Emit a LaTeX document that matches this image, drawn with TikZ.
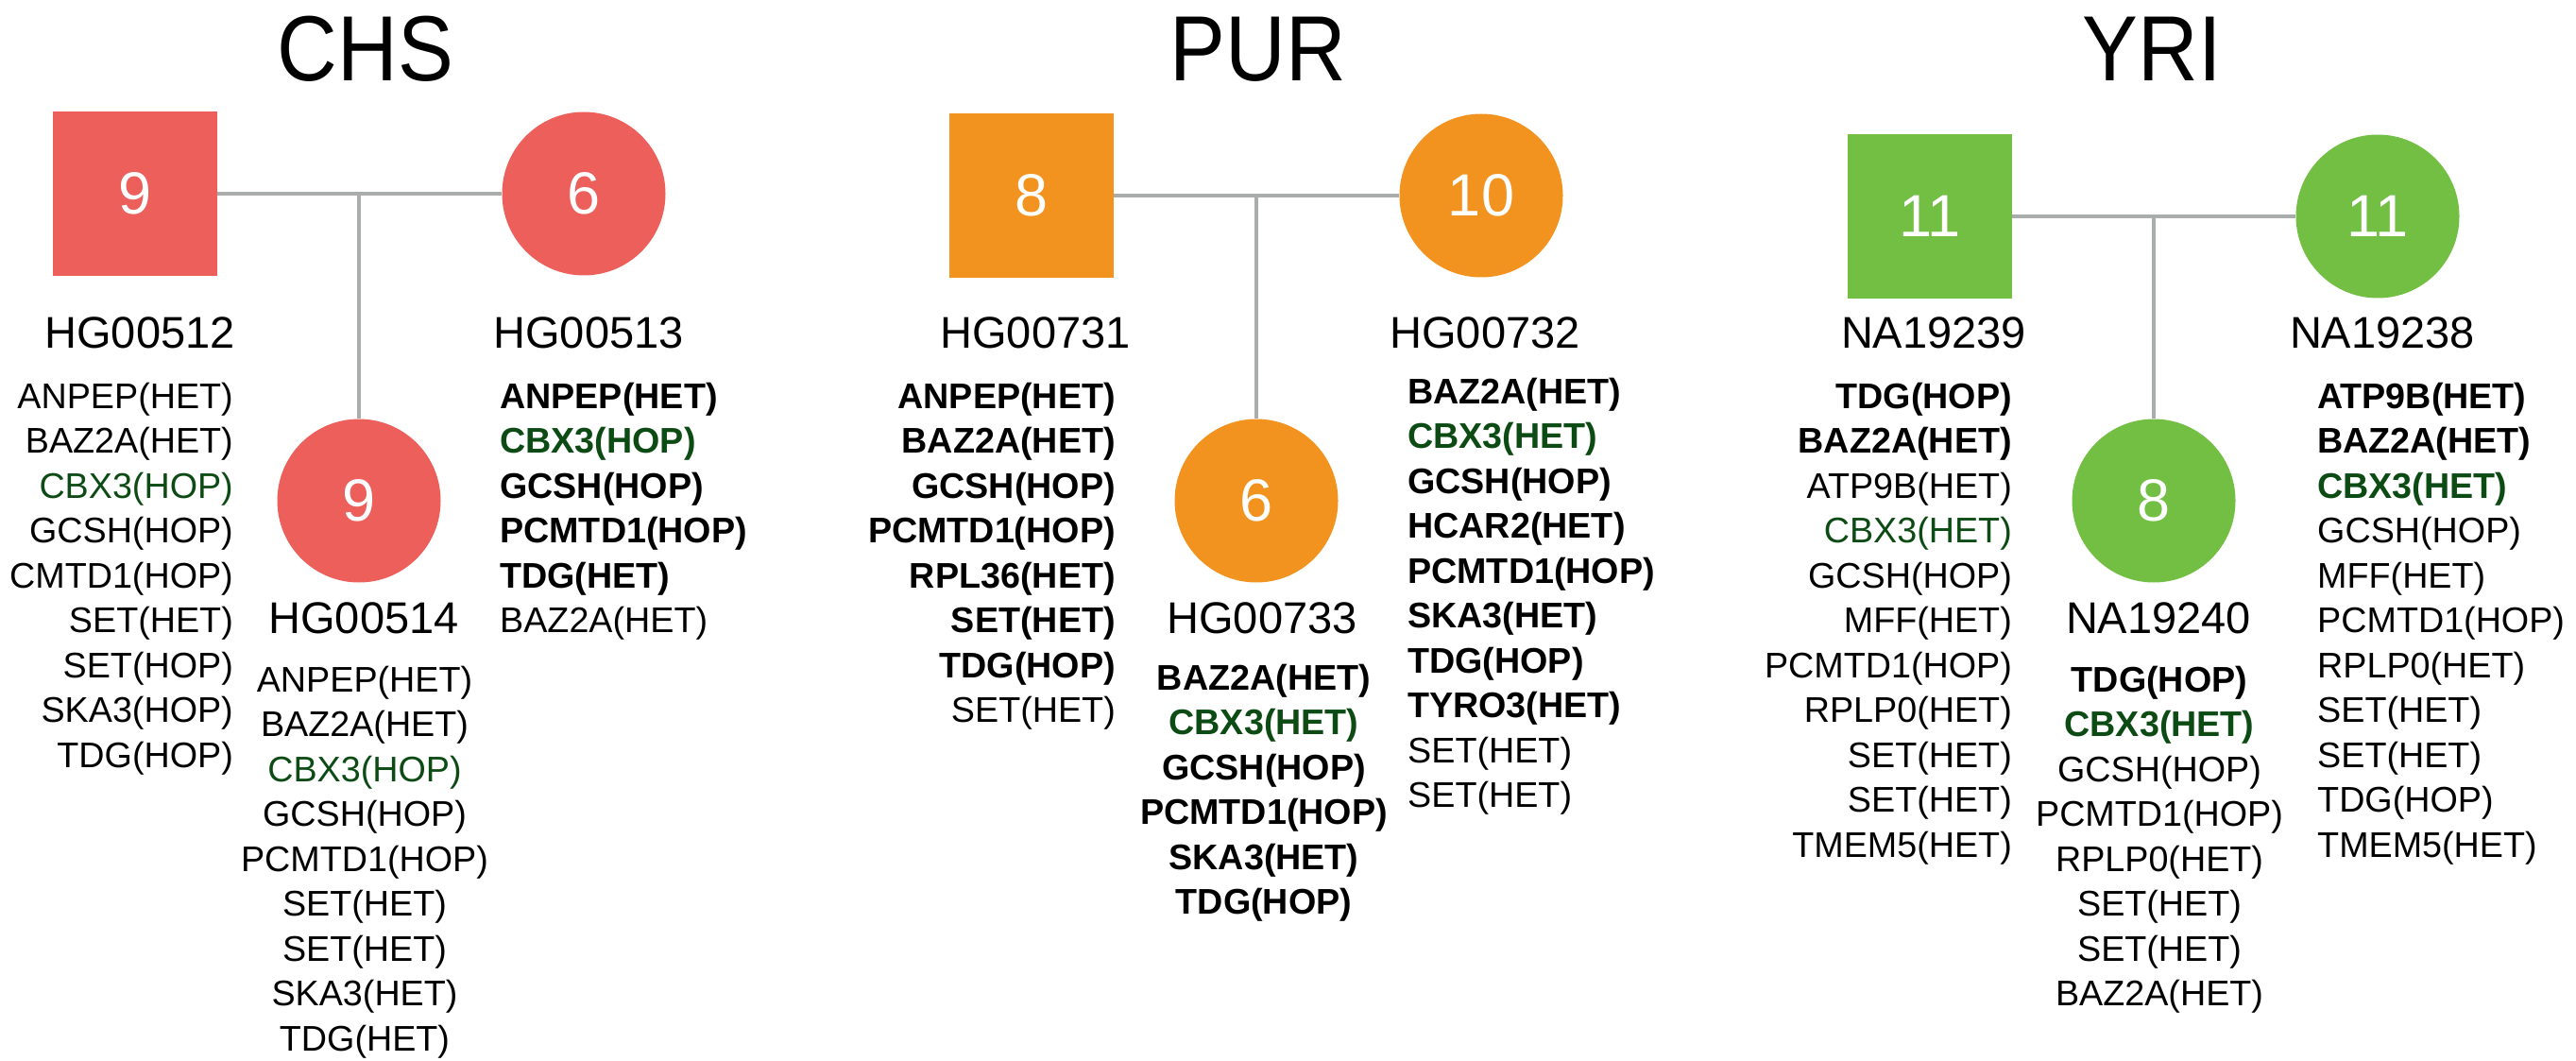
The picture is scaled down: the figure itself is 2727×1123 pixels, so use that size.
\documentclass[tikz,border=0pt]{standalone}
\usepackage{fontspec}
\setmainfont{Liberation Sans}
\newfontfamily\titlefam[FakeStretch=0.9]{Liberation Sans}
\definecolor{chsred}{HTML}{EC5F5A}
\definecolor{purorange}{HTML}{F3931F}
\definecolor{yrigreen}{HTML}{72BF44}
\definecolor{linegray}{HTML}{A9AEAD}
\definecolor{txtgreen}{HTML}{0D4B14}
\newcommand\mkB[1]{\textbf{#1}}
\newcommand\mkG[1]{\textcolor{txtgreen}{#1}}
\newcommand\genefont{\fontsize{37.7}{45}\selectfont}
\newcommand\idfont{\fontsize{47}{55}\selectfont}
\newcommand\numfont{\fontsize{63}{70}\selectfont}
\newcommand\titlefont{\titlefam\fontsize{98}{110}\selectfont}
\newcommand\genelist[5]{%
  \foreach \t [count=\i from 0] in {#5} {\node[gene, anchor=#2] (#1\i) at (#3, #4+47.5*\i) {\t};}}
\begin{document}
\begin{tikzpicture}[x=1pt,y=-1pt,
  conn/.style={draw=linegray, line width=4.5pt},
  male/.style={rectangle, minimum size=174pt, inner sep=0pt, fill=#1, text=white, font=\numfont},
  female/.style={circle, minimum size=173pt, inner sep=0pt, fill=#1, text=white, font=\numfont},
  gene/.style={inner sep=0pt, font=\genefont},
  idlab/.style={inner sep=0pt, anchor=base, font=\idfont},
  title/.style={inner sep=0pt, anchor=base, font=\titlefont}]
\useasboundingbox (0,0) rectangle (2727,1123);

% ---------- CHS ----------
\node[title] (chsT) at (387,86) {CHS};
\node[male=chsred] (chsF) at (143,205) {9};
\node[female=chsred] (chsM) at (618,205) {6};
\node[female=chsred] (chsC) at (380,530) {9};
\draw[conn] (chsF.east) -- (chsM.west);
\draw[conn] (chsC.north) -- (chsC.north |- chsF.east);
\node[idlab] (chsFid) at (148,368) {HG00512};
\node[idlab] (chsMid) at (623,368) {HG00513};
\node[idlab] (chsCid) at (385,670) {HG00514};
\genelist{chsL}{base east}{247}{432}{ANPEP(HET),BAZ2A(HET),\mkG{CBX3(HOP)},GCSH(HOP),CMTD1(HOP),SET(HET),SET(HOP),SKA3(HOP),TDG(HOP)}
\genelist{chsR}{base west}{529}{432}{\mkB{ANPEP(HET)},\mkB{\mkG{CBX3(HOP)}},\mkB{GCSH(HOP)},\mkB{PCMTD1(HOP)},\mkB{TDG(HET)},BAZ2A(HET)}
\genelist{chsC}{base}{386}{732}{ANPEP(HET),BAZ2A(HET),\mkG{CBX3(HOP)},GCSH(HOP),PCMTD1(HOP),SET(HET),SET(HET),SKA3(HET),TDG(HET)}

% ---------- PUR ----------
\node[title] (purT) at (1332,86) {PUR};
\node[male=purorange] (purF) at (1092,207) {8};
\node[female=purorange] (purM) at (1568,207) {10};
\node[female=purorange] (purC) at (1330,530) {6};
\draw[conn] (purF.east) -- (purM.west);
\draw[conn] (purC.north) -- (purC.north |- purF.east);
\node[idlab] (purFid) at (1096,368) {HG00731};
\node[idlab] (purMid) at (1572,368) {HG00732};
\node[idlab] (purCid) at (1336,670) {HG00733};
\genelist{purL}{base east}{1181}{432}{\mkB{ANPEP(HET)},\mkB{BAZ2A(HET)},\mkB{GCSH(HOP)},\mkB{PCMTD1(HOP)},\mkB{RPL36(HET)},\mkB{SET(HET)},\mkB{TDG(HOP)},SET(HET)}
\genelist{purR}{base west}{1490}{427}{\mkB{BAZ2A(HET)},\mkB{\mkG{CBX3(HET)}},\mkB{GCSH(HOP)},\mkB{HCAR2(HET)},\mkB{PCMTD1(HOP)},\mkB{SKA3(HET)},\mkB{TDG(HOP)},\mkB{TYRO3(HET)},SET(HET),SET(HET)}
\genelist{purC}{base}{1338}{730}{\mkB{BAZ2A(HET)},\mkB{\mkG{CBX3(HET)}},\mkB{GCSH(HOP)},\mkB{PCMTD1(HOP)},\mkB{SKA3(HET)},\mkB{TDG(HOP)}}

% ---------- YRI ----------
\node[title] (yriT) at (2278,86) {YRI};
\node[male=yrigreen] (yriF) at (2043,229) {11};
\node[female=yrigreen] (yriM) at (2517,229) {11};
\node[female=yrigreen] (yriC) at (2280,530) {8};
\draw[conn] (yriF.east) -- (yriM.west);
\draw[conn] (yriC.north) -- (yriC.north |- yriF.east);
\node[idlab] (yriFid) at (2047,368) {NA19239};
\node[idlab] (yriMid) at (2522,368) {NA19238};
\node[idlab] (yriCid) at (2285,670) {NA19240};
\genelist{yriL}{base east}{2130}{432}{\mkB{TDG(HOP)},\mkB{BAZ2A(HET)},ATP9B(HET),\mkG{CBX3(HET)},GCSH(HOP),MFF(HET),PCMTD1(HOP),RPLP0(HET),SET(HET),SET(HET),TMEM5(HET)}
\genelist{yriR}{base west}{2453}{432}{\mkB{ATP9B(HET)},\mkB{BAZ2A(HET)},\mkB{\mkG{CBX3(HET)}},GCSH(HOP),MFF(HET),PCMTD1(HOP),RPLP0(HET),SET(HET),SET(HET),TDG(HOP),TMEM5(HET)}
\genelist{yriC}{base}{2286}{732}{\mkB{TDG(HOP)},\mkB{\mkG{CBX3(HET)}},GCSH(HOP),PCMTD1(HOP),RPLP0(HET),SET(HET),SET(HET),BAZ2A(HET)}
\end{tikzpicture}
\end{document}
